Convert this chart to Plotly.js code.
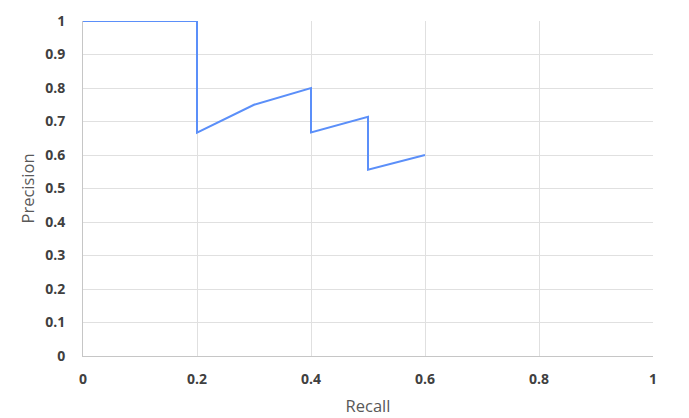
<!DOCTYPE html>
<html><head><meta charset="utf-8">
<script src="https://cdn.plot.ly/plotly-3.0.1.min.js"></script>
<style>html,body{margin:0;padding:0;background:#fff;}#chart{width:689px;height:418px;}</style>
</head><body><div id="chart"></div>
<script>
const recall = [0, 0.1, 0.2, 0.2, 0.3, 0.4, 0.4, 0.5, 0.5, 0.6];
const precision = [1, 1, 1, 0.667, 0.75, 0.8, 0.667, 0.714, 0.556, 0.6];
const tickVals = [0, 0.2, 0.4, 0.6, 0.8, 1];
const tickText = ['0', '0.2', '0.4', '0.6', '0.8', '1'];
const yTickVals = [0, 0.1, 0.2, 0.3, 0.4, 0.5, 0.6, 0.7, 0.8, 0.9, 1];
const yTickText = ['0', '0.1', '0.2', '0.3', '0.4', '0.5', '0.6', '0.7', '0.8', '0.9', '1'];

const trace = {x: recall, y: precision, type: 'scatter', mode: 'lines',
  line: {color: '#5b8ff9', width: 2}, hoverinfo: 'none'};
const tickFont = {family: '"Open Sans", sans-serif', size: 14, color: '#404040', weight: 700};
const layout = {
  width: 689, height: 418,
  margin: {l: 83, r: 36, t: 21, b: 62},
  paper_bgcolor: '#fff', plot_bgcolor: '#fff',
  showlegend: false,
  xaxis: {range: [0, 1], tickvals: tickVals, ticktext: tickText, showgrid: true, gridcolor: '#e0e0e0',
    showline: true, linecolor: '#c6c6c6', linewidth: 1, zeroline: false, ticks: '', ticklabelstandoff: 10,
    tickfont: tickFont,
    title: {text: 'Recall', font: {family: '"Open Sans", sans-serif', size: 16.5, color: '#595959'}, standoff: 13}},
  yaxis: {range: [0, 1], tickvals: yTickVals, ticktext: yTickText, showgrid: true, gridcolor: '#e0e0e0',
    showline: true, linecolor: '#c6c6c6', linewidth: 1, zeroline: false, ticks: '', ticklabelstandoff: 14,
    tickfont: tickFont,
    title: {text: 'Precision', font: {family: '"Open Sans", sans-serif', size: 16.5, color: '#595959'}, standoff: 6}}
};
Plotly.newPlot('chart', [trace], layout, {staticPlot: true, displayModeBar: false});
</script></body></html>
